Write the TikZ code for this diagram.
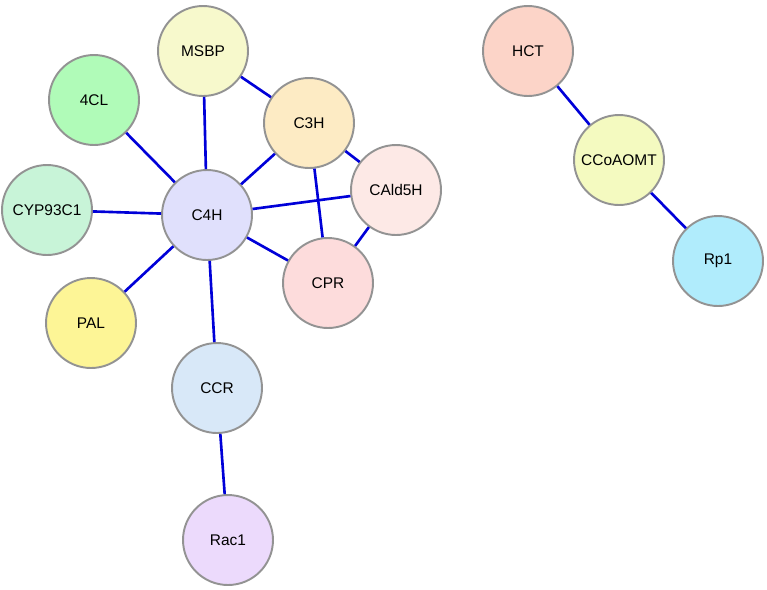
\documentclass[tikz,border=0pt]{standalone}
\usepackage{fontspec}
\setmainfont{Liberation Sans}
\usetikzlibrary{arrows}

\definecolor{cMSBP}{HTML}{F7F9CC}
\definecolor{cCthreeH}{HTML}{FDEBC4}
\definecolor{cCfourH}{HTML}{E0E0FC}
\definecolor{cCAld}{HTML}{FDE9E6}
\definecolor{cCPR}{HTML}{FDDCDC}
\definecolor{cFourCL}{HTML}{B0FBB8}
\definecolor{cCYP}{HTML}{C8F4D8}
\definecolor{cPAL}{HTML}{FDF596}
\definecolor{cCCR}{HTML}{D8E8F8}
\definecolor{cRac}{HTML}{ECDAFC}
\definecolor{cHCT}{HTML}{FCD4C8}
\definecolor{cCCoA}{HTML}{F4FAC0}
\definecolor{cRp}{HTML}{B0ECFC}
\definecolor{edgeblue}{HTML}{0000D8}

\begin{document}
\begin{tikzpicture}[x=0.02cm,y=-0.02cm,
	thick,gene node/.style={circle,draw=gray!85,line width=1.1pt,minimum size=1.8cm,inner sep=0pt,font=\fontsize{8.8}{10}\selectfont},
	link/.style={draw=edgeblue,line width=1.5pt}]
	\useasboundingbox (0,0) rectangle (767,589);
	
	\node[gene node,fill=cMSBP] (msbp) at (203,51) {MSBP};
	\node[gene node,fill=cFourCL] (fourcl) at (94,100) {4CL};
	\node[gene node,fill=cCthreeH] (c3h) at (309,123) {C3H};
	\node[gene node,fill=cCfourH] (c4h) at (207,215) {C4H};
	\node[gene node,fill=cCAld] (cald) at (396,190) {CAld5H};
	\node[gene node,fill=cCYP] (cyp) at (47,210) {CYP93C1};
	\node[gene node,fill=cCPR] (cpr) at (328,283) {CPR};
	\node[gene node,fill=cPAL] (pal) at (91,323) {PAL};
	\node[gene node,fill=cCCR] (ccr) at (217,388) {CCR};
	\node[gene node,fill=cRac] (rac) at (228,540) {Rac1};
	\node[gene node,fill=cHCT] (hct) at (528,51) {HCT};
	\node[gene node,fill=cCCoA] (ccoa) at (619,160) {CCoAOMT};
	\node[gene node,fill=cRp] (rp) at (718,261) {Rp1};
	
	\path[link]
	(msbp) edge (c3h)
	(msbp) edge (c4h)
	(fourcl) edge (c4h)
	(c3h) edge (c4h)
	(c3h) edge (cald)
	(c3h) edge (cpr)
	(c4h) edge (cald)
	(c4h) edge (cyp)
	(c4h) edge (cpr)
	(c4h) edge (pal)
	(c4h) edge (ccr)
	(cald) edge (cpr)
	(ccr) edge (rac)
	(hct) edge (ccoa)
	(ccoa) edge (rp);
\end{tikzpicture}
\end{document}
